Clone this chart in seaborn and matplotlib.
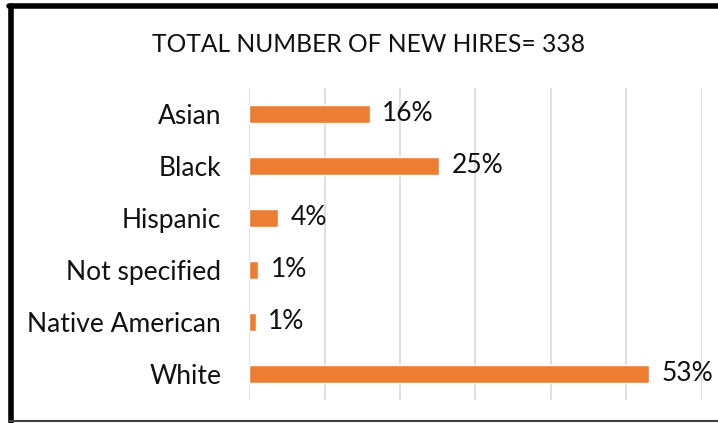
import matplotlib
matplotlib.use("Agg")
import matplotlib.pyplot as plt
from matplotlib.lines import Line2D
import seaborn as sns
import pandas as pd

# new hires by race / ethnicity
categories = ["Asian", "Black", "Hispanic", "Not specified", "Native American", "White"]
counts = [54, 85, 13, 4, 3, 179]
total = sum(counts)
shares = [c / total for c in counts]
labels = [f"{round(s * 100)}%" for s in shares]

df = pd.DataFrame({"group": categories, "share": shares})

sns.set_style("white")
plt.rcParams["font.family"] = ["Lato", "DejaVu Sans"]

fig = plt.figure(figsize=(7.18, 4.23), dpi=100)
ax = fig.add_axes([0.3468, 0.0544, 0.6309, 0.7376])

sns.barplot(data=df, x="share", y="group", orient="h", color="#ED7D31",
            width=0.35, saturation=1, ax=ax, zorder=3)

ax.set_xlim(0, 0.6)
ax.set_ylim(5.5, -0.5)
ax.set_xticks([0, 0.1, 0.2, 0.3, 0.4, 0.5, 0.6])
ax.set_xticklabels([])
ax.grid(axis="x", color="#D9D9D9", linewidth=1.2, zorder=0)
ax.grid(axis="y", visible=False)
for s in ax.spines.values():
    s.set_visible(False)
ax.tick_params(axis="y", length=0, pad=20, labelsize=19, labelcolor="#111111")
ax.tick_params(axis="x", length=0)
ax.set_xlabel("")
ax.set_ylabel("")

ax.bar_label(ax.containers[0], labels=labels, padding=9, fontsize=19, color="#111111")

fig.text(0.513, 0.895, f"TOTAL NUMBER OF NEW HIRES= {total}", ha="center", va="center",
         fontsize=17.7, color="#111111")

# chart frame (left and top heavy, bottom thin)
fig.add_artist(Line2D([0.0153, 0.0153], [0.003, 0.985], color="black", linewidth=4))
fig.add_artist(Line2D([0.0125, 1.0], [0.985, 0.985], color="black", linewidth=4))
fig.add_artist(Line2D([0.0125, 1.0], [0.004, 0.004], color="#404040", linewidth=1.5))

fig.savefig("out.png", dpi=100)
